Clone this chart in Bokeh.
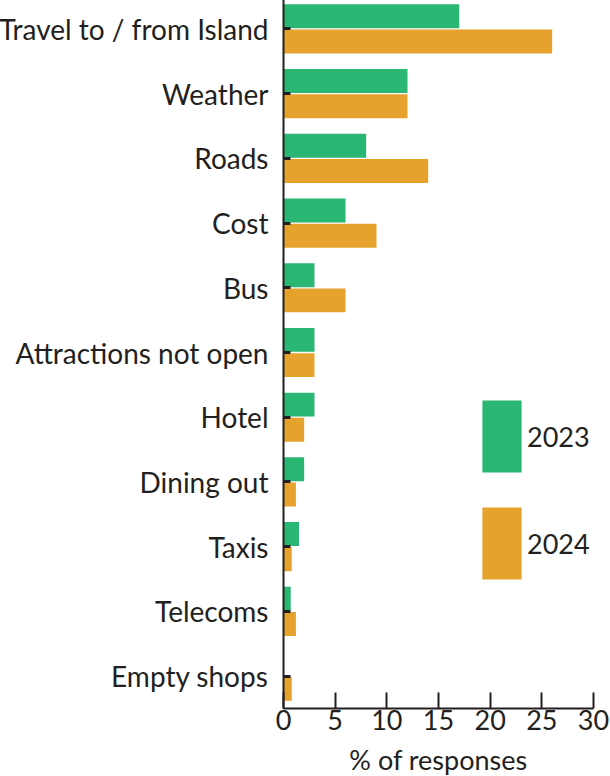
from bokeh.plotting import figure
from bokeh.models import FactorRange, Range1d, FixedTicker, Legend, LegendItem, ColumnDataSource
from bokeh.transform import dodge
from bokeh.embed import file_html
from bokeh.resources import INLINE

categories = ["Travel to / from Island", "Weather", "Roads", "Cost", "Bus",
              "Attractions not open", "Hotel", "Dining out", "Taxis", "Telecoms", "Empty shops"]
values_2023 = [17, 12, 8, 6, 3, 3, 3, 2, 1.5, 0.7, 0]
values_2024 = [26, 12, 14, 9, 6, 3, 2, 1.2, 0.8, 1.2, 0.8]
x_ticks = [0, 5, 10, 15, 20, 25, 30]

GREEN = "#2AB673"
ORANGE = "#E5A22D"
TEXT = "#231F20"
FONT = "Lato"

src = ColumnDataSource(dict(cat=categories, v23=values_2023, v24=values_2024))

p = figure(y_range=FactorRange(factors=list(reversed(categories))),
           x_range=Range1d(0, 30),
           frame_width=310, frame_height=712,
           output_backend="svg", toolbar_location=None,
           min_border_left=0, min_border_right=17, min_border_top=0, min_border_bottom=0)
p.margin = (-4, 0, 0, -4)

r23 = p.hbar(y=dodge("cat", 0.195, range=p.y_range), right="v23", left=0, height=0.37,
             source=src, color=GREEN, line_color=None)
r24 = p.hbar(y=dodge("cat", -0.195, range=p.y_range), right="v24", left=0, height=0.37,
             source=src, color=ORANGE, line_color=None)

p.outline_line_color = None
p.xgrid.grid_line_color = None
p.ygrid.grid_line_color = None
p.background_fill_color = "white"

xa = p.xaxis[0]
xa.ticker = FixedTicker(ticks=x_ticks)
xa.axis_label = "% of responses"
xa.axis_label_text_font = FONT
xa.axis_label_text_font_style = "normal"
xa.axis_label_text_font_size = "27px"
xa.axis_label_text_color = TEXT
xa.axis_label_standoff = 10
xa.major_label_text_font = FONT
xa.major_label_text_font_size = "27px"
xa.major_label_text_color = TEXT
xa.major_label_standoff = 1
xa.major_tick_in = 16
xa.major_tick_out = 0
xa.minor_tick_in = 0
xa.minor_tick_out = 0
xa.axis_line_width = 2
xa.axis_line_color = TEXT
xa.major_tick_line_width = 2
xa.major_tick_line_color = TEXT

ya = p.yaxis[0]
ya.major_label_text_font = FONT
ya.major_label_text_font_size = "28px"
ya.major_label_text_color = TEXT
ya.major_label_standoff = 15
ya.major_tick_in = 7
ya.major_tick_out = 0
ya.axis_line_width = 2
ya.axis_line_color = TEXT
ya.major_tick_line_width = 3
ya.major_tick_line_color = TEXT

legend = Legend(items=[LegendItem(label="2023", renderers=[r23]),
                       LegendItem(label="2024", renderers=[r24])],
                location=(194, 120), glyph_width=49, glyph_height=90, spacing=17,
                label_standoff=1, padding=0, margin=0, border_line_color=None,
                background_fill_alpha=0, label_text_font=FONT, label_text_font_size="27px",
                label_text_color=TEXT, label_height=90)
p.add_layout(legend, "center")

open("out.html", "w").write(file_html(p, INLINE))
